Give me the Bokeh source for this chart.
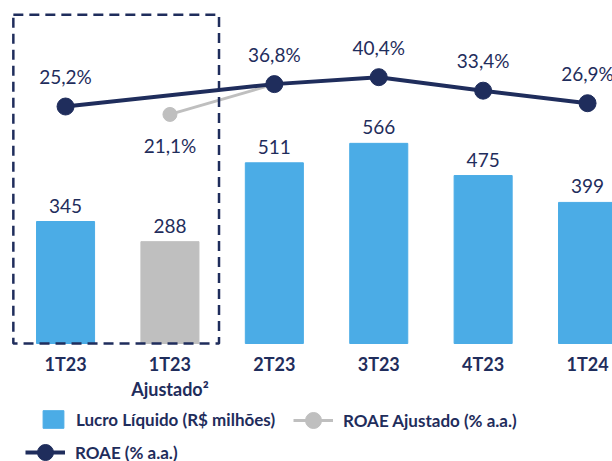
from bokeh.plotting import figure
from bokeh.models import ColumnDataSource, Range1d, BoxAnnotation, Legend, LegendItem
from bokeh.embed import file_html
from bokeh.resources import INLINE
from bokeh.core.properties import value

# ---- data ----
categories = ["1T23", "1T23\nAjustado²", "2T23", "3T23", "4T23", "1T24"]
lucro = [345, 288, 511, 566, 475, 399]
roae = [25.2, None, 36.8, 40.4, 33.4, 26.9]
roae_ajustado = [None, 21.1, 36.8, None, None, None]

# ---- style ----
NAVY = "#1F2D5C"
BLUE = "#4BACE6"
GREY = "#BFBFBF"
FONT = value("Lato")

def pct(v):
    return f"{v:.1f}%".replace(".", ",")

xs = list(range(len(categories)))
bar_src = ColumnDataSource(dict(
    x=xs,
    lucro=lucro,
    label=[str(v) for v in lucro],
    cat=categories,
    color=[GREY if "Ajustado" in c else BLUE for c in categories],
))

r_x = [x for x, v in zip(xs, roae) if v is not None]
r_y = [v for v in roae if v is not None]
roae_src = ColumnDataSource(dict(x=r_x, y=r_y, label=[pct(v) for v in r_y]))

a_x = [x for x, v in zip(xs, roae_ajustado) if v is not None]
a_y = [v for v in roae_ajustado if v is not None]
aj_src = ColumnDataSource(dict(x=a_x, y=a_y))
al = [(x, v) for x, v, r in zip(xs, roae_ajustado, roae) if v is not None and r is None]
aj_lab_src = ColumnDataSource(dict(x=[a for a, _ in al], y=[b for _, b in al],
                                   label=[pct(b) for _, b in al]))

p = figure(width=612, height=461, output_backend="svg", toolbar_location=None,
           x_range=Range1d(-0.623, 5.239), y_range=Range1d(-333.7, 970.0),
           x_axis_location=None, y_axis_location=None, min_border=0)
p.extra_y_ranges = {"roae": Range1d(-158.7, 80.12)}
p.grid.visible = False
p.outline_line_color = None
p.background_fill_color = "white"

bars = p.vbar(x="x", top="lucro", bottom=0, width=0.556, color="color", source=bar_src)
p.text(x="x", y="lucro", text="label", source=bar_src, text_align="center",
       text_baseline="middle", y_offset=-16, text_font=FONT, text_font_size="19px",
       text_color=NAVY)
p.text(x="x", y=0, text="cat", source=bar_src, text_align="center",
       text_baseline="top", y_offset=9, text_font=FONT, text_font_size="18px",
       text_font_style="bold", text_color=NAVY, text_line_height=1.15)

aj_line = p.line(x="x", y="y", source=aj_src, y_range_name="roae",
                 line_color=GREY, line_width=3)
aj_dots = p.scatter(x="x", y="y", source=aj_src, y_range_name="roae", size=14,
                    fill_color=GREY, line_color=GREY)
p.text(x="x", y="y", text="label", source=aj_lab_src, y_range_name="roae",
       text_align="center", text_baseline="middle", y_offset=31, text_font=FONT,
       text_font_size="19px", text_color=NAVY)

r_line = p.line(x="x", y="y", source=roae_src, y_range_name="roae",
                line_color=NAVY, line_width=4)
r_dots = p.scatter(x="x", y="y", source=roae_src, y_range_name="roae", size=17,
                   fill_color=NAVY, line_color=NAVY)
p.text(x="x", y="y", text="label", source=roae_src, y_range_name="roae",
       text_align="center", text_baseline="middle", y_offset=-30, text_font=FONT,
       text_font_size="19px", text_color=NAVY)

box = BoxAnnotation(left=-0.5, right=1.47, bottom=0, top=930, fill_color=None,
                    fill_alpha=0, line_color=NAVY, line_alpha=1.0, line_width=2.5,
                    line_dash="10 6")
p.add_layout(box)

common = dict(padding=0, margin=0, border_line_color=None, background_fill_alpha=0,
              label_text_font="Lato", label_text_font_style="bold",
              label_text_font_size="17px", label_text_color=NAVY, label_standoff=10)

leg1 = Legend(items=[LegendItem(label="Lucro Líquido (R$ milhões)", renderers=[bars], index=0)],
              location=(40, 31), glyph_width=26, glyph_height=22, **common)
leg2 = Legend(items=[LegendItem(label="ROAE Ajustado (% a.a.)", renderers=[aj_line, aj_dots])],
              location=(293, 21), glyph_width=40, glyph_height=40, **common)
leg3 = Legend(items=[LegendItem(label="ROAE (% a.a.)", renderers=[r_line, r_dots])],
              location=(25, -11), glyph_width=40, glyph_height=40, **common)
for lg in (leg1, leg2, leg3):
    p.add_layout(lg)

open("out.html", "w").write(file_html(p, INLINE))
